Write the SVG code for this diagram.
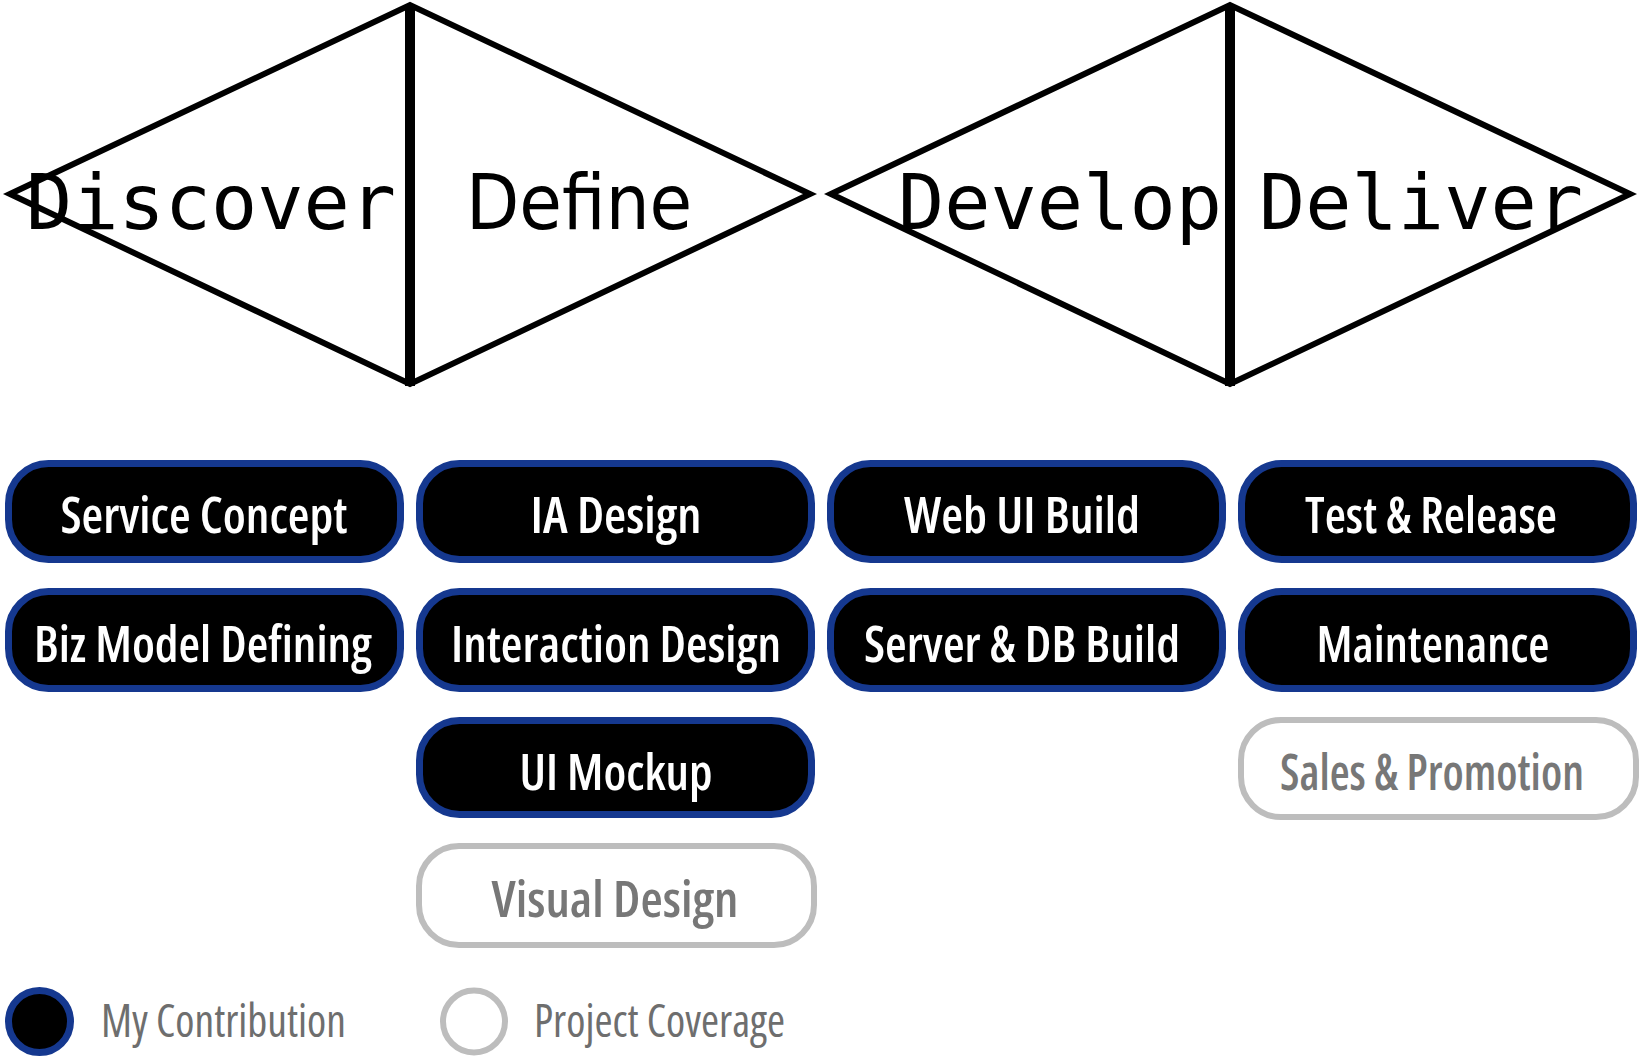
<svg xmlns="http://www.w3.org/2000/svg" width="1641" height="1062" viewBox="0 0 1641 1062">
<style>
.dia{fill:none;stroke:#000;stroke-width:6;stroke-linejoin:miter}
.axis{stroke:#000;stroke-width:10}
.mono{font-family:"DejaVu Sans Mono","Liberation Mono",monospace;font-size:77px;fill:#000}
.cond{font-family:"DejaVu Sans Condensed","DejaVu Sans",sans-serif;font-stretch:condensed;font-size:77px;fill:#000}
.pill{fill:#000;stroke:#15388f;stroke-width:7}
.pillg{fill:#fff;stroke:#bdbdbd;stroke-width:6}
.pt{font-family:"Open Sans","Liberation Sans",sans-serif;font-stretch:condensed;font-weight:600;font-size:50px;fill:#fff;text-anchor:middle}
.ptg{font-family:"Open Sans","Liberation Sans",sans-serif;font-stretch:condensed;font-weight:600;font-size:50px;fill:#777;text-anchor:middle}
.lg{font-family:"Open Sans","Liberation Sans",sans-serif;font-stretch:condensed;font-size:45px;fill:#6e6e6e}
</style>
<rect width="1641" height="1062" fill="#fff"/>
<g id="diamonds">
<g id="diamond-1">
<polygon class="dia" points="10,194 410,5 810,194 410,384"/>
<line class="axis" x1="410" y1="4" x2="410" y2="386"/>
</g>
<g id="diamond-2">
<polygon class="dia" points="831,194 1230,5 1630,194 1230,384"/>
<line class="axis" x1="1230" y1="4" x2="1230" y2="386"/>
</g>
</g>
<g id="phase-discover"><text class="mono" x="26" y="229" textLength="370" lengthAdjust="spacingAndGlyphs">Discover</text></g>
<g id="phase-define"><text class="cond" x="466" y="229">Define</text></g>
<g id="phase-develop"><text class="mono" x="898" y="229" textLength="324" lengthAdjust="spacingAndGlyphs">Develop</text></g>
<g id="phase-deliver"><text class="mono" x="1259" y="229" textLength="324" lengthAdjust="spacingAndGlyphs">Deliver</text></g>
<g id="connectors"></g>
<g id="service-concept"><rect class="pill" x="8.5" y="463.5" width="392" height="96" rx="40"/><text class="pt" x="204" y="533" textLength="287" lengthAdjust="spacingAndGlyphs">Service Concept</text></g>
<g id="biz-model"><rect class="pill" x="8.5" y="591.5" width="392" height="97" rx="40"/><text class="pt" x="203" y="662" textLength="338" lengthAdjust="spacingAndGlyphs">Biz Model Defining</text></g>
<g id="ia-design"><rect class="pill" x="419.5" y="463.5" width="392" height="96" rx="40"/><text class="pt" x="616" y="533" textLength="171" lengthAdjust="spacingAndGlyphs">IA Design</text></g>
<g id="interaction-design"><rect class="pill" x="419.5" y="591.5" width="392" height="97" rx="40"/><text class="pt" x="616" y="662" textLength="330" lengthAdjust="spacingAndGlyphs">Interaction Design</text></g>
<g id="ui-mockup"><rect class="pill" x="419.5" y="720.5" width="392" height="94" rx="40"/><text class="pt" x="616" y="790" textLength="193" lengthAdjust="spacingAndGlyphs">UI Mockup</text></g>
<g id="visual-design"><rect class="pillg" x="419" y="846" width="395" height="99" rx="40"/><text class="ptg" x="615" y="917" textLength="247" lengthAdjust="spacingAndGlyphs">Visual Design</text></g>
<g id="web-ui-build"><rect class="pill" x="830.5" y="463.5" width="392" height="96" rx="40"/><text class="pt" x="1022" y="533" textLength="236" lengthAdjust="spacingAndGlyphs">Web UI Build</text></g>
<g id="server-db-build"><rect class="pill" x="830.5" y="591.5" width="392" height="97" rx="40"/><text class="pt" x="1022" y="662" textLength="316" lengthAdjust="spacingAndGlyphs">Server &amp; DB Build</text></g>
<g id="test-release"><rect class="pill" x="1241.5" y="463.5" width="392" height="96" rx="40"/><text class="pt" x="1431" y="533" textLength="252" lengthAdjust="spacingAndGlyphs">Test &amp; Release</text></g>
<g id="maintenance"><rect class="pill" x="1241.5" y="591.5" width="392" height="97" rx="40"/><text class="pt" x="1433" y="662" textLength="233" lengthAdjust="spacingAndGlyphs">Maintenance</text></g>
<g id="sales-promotion"><rect class="pillg" x="1241" y="720" width="395" height="97" rx="40"/><text class="ptg" x="1432" y="790" textLength="304" lengthAdjust="spacingAndGlyphs">Sales &amp; Promotion</text></g>
<g id="legend">
<g id="legend-mine"><circle cx="39.5" cy="1021.5" r="31" fill="#000" stroke="#15388f" stroke-width="7"/><text class="lg" x="101" y="1037" textLength="245" lengthAdjust="spacingAndGlyphs">My Contribution</text></g>
<g id="legend-project"><circle cx="474" cy="1021.5" r="31" fill="#fff" stroke="#bdbdbd" stroke-width="6"/><text class="lg" x="534" y="1037" textLength="251" lengthAdjust="spacingAndGlyphs">Project Coverage</text></g>
</g>
</svg>
